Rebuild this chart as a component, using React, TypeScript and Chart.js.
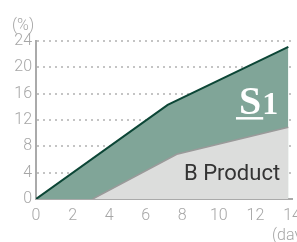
import React, { useEffect, useRef } from "react";
import { Chart, registerables } from "chart.js";

Chart.register(...registerables);

const s1Days = [0, 7.2, 13.8];
const s1Values = [0, 14.3, 23.1];
const bDays = [3.1, 7.7, 13.8];
const bValues = [0, 6.8, 10.9];
const yTicks = [0, 4, 8, 12, 16, 20, 24];
const xTicks = [0, 2, 4, 6, 8, 10, 12, 14];
const yUnit = "(%)";
const xUnit = "(days)";
const bLabel = "B Product";
const s1Main = "S";
const s1Sub = "1";

const FONT = "Roboto, 'Liberation Sans', sans-serif";

const labelsPlugin = {
  id: "labels",
  afterDraw(chart: any) {
    const { ctx, scales } = chart;
    const x = scales.x;
    const y = scales.y;
    ctx.save();
    ctx.fillStyle = "#a6a6a6";
    ctx.font = `300 16px ${FONT}`;
    ctx.textBaseline = "alphabetic";
    ctx.textAlign = "left";
    ctx.fillText(yUnit, 12, 30);
    ctx.fillText(xUnit, 272, 240);

    // B Product label
    ctx.fillStyle = "#333333";
    ctx.font = `400 22px ${FONT}`;
    ctx.textAlign = "right";
    ctx.fillText(bLabel, x.getPixelForValue(13.35), y.getPixelForValue(2.9));

    // S1 label
    ctx.fillStyle = "#ffffff";
    ctx.textAlign = "left";
    ctx.font = `bold 40px 'Liberation Serif', serif`;
    const sx = x.getPixelForValue(11.1);
    const by = y.getPixelForValue(12.9);
    ctx.fillText(s1Main, sx, by);
    const sw = ctx.measureText(s1Main).width;
    ctx.font = `bold 32px 'Liberation Serif', serif`;
    ctx.fillText(s1Sub, sx + sw + 1, by);
    ctx.fillRect(sx - 3, by + 3, sw + 5, 2.5);
    ctx.restore();
  },
};

export default function App() {
  const ref = useRef<HTMLCanvasElement | null>(null);
  useEffect(() => {
    if (!ref.current) return;
    const chart = new Chart(ref.current, {
      type: "line",
      data: {
        datasets: [
          {
            label: bLabel,
            data: bDays.map((d, i) => ({ x: d, y: bValues[i] })),
            borderColor: "#9a9a9a",
            borderWidth: 1.5,
            backgroundColor: "#dcdddc",
            fill: "origin",
            pointRadius: 0,
            tension: 0,
          },
          {
            label: "S1",
            data: s1Days.map((d, i) => ({ x: d, y: s1Values[i] })),
            borderColor: "#0c4636",
            borderWidth: 2,
            backgroundColor: "#80a598",
            fill: "origin",
            pointRadius: 0,
            tension: 0,
          },
        ],
      },
      options: {
        responsive: false,
        animation: false,
        layout: { padding: { top: 41, right: 5, left: 0, bottom: 0 } },
        plugins: { legend: { display: false }, tooltip: { enabled: false } },
        scales: {
          x: {
            type: "linear",
            min: 0,
            max: 14,
            afterBuildTicks: (s: any) => {
              s.ticks = xTicks.map((v) => ({ value: v }));
            },
            afterFit: (s: any) => {
              s.height = 43;
              s.paddingLeft = 0;
              s.paddingRight = 0;
            },
            grid: { display: false, drawTicks: false },
            border: { display: true, color: "#aaaaaa", width: 2 },
            ticks: {
              padding: 7,
              color: "#a6a6a6",
              font: { family: FONT, size: 16, weight: "300" as any },
              maxRotation: 0,
              autoSkip: false,
            },
          },
          y: {
            min: 0,
            max: 24,
            z: 1,
            afterBuildTicks: (s: any) => {
              s.ticks = yTicks.map((v) => ({ value: v }));
            },
            afterFit: (s: any) => {
              s.width = 36;
              s.paddingTop = 0;
              s.paddingBottom = 0;
            },
            grid: {
              drawTicks: false,
              color: (c: any) => (c.tick && c.tick.value === 0 ? "rgba(0,0,0,0)" : "#c4c4c4"),
              lineWidth: 2,
            },
            border: { display: true, color: "#aaaaaa", width: 2, dash: [2, 4] as any },
            ticks: {
              padding: 4,
              color: "#a6a6a6",
              font: { family: FONT, size: 16, weight: "300" as any },
              autoSkip: false,
            },
          },
        },
      },
      plugins: [labelsPlugin],
    });
    return () => chart.destroy();
  }, []);
  return (
    <canvas
      ref={ref}
      width={297}
      height={242}
      style={{ position: "absolute", left: 0, top: 0, width: 297, height: 242 }}
    />
  );
}
